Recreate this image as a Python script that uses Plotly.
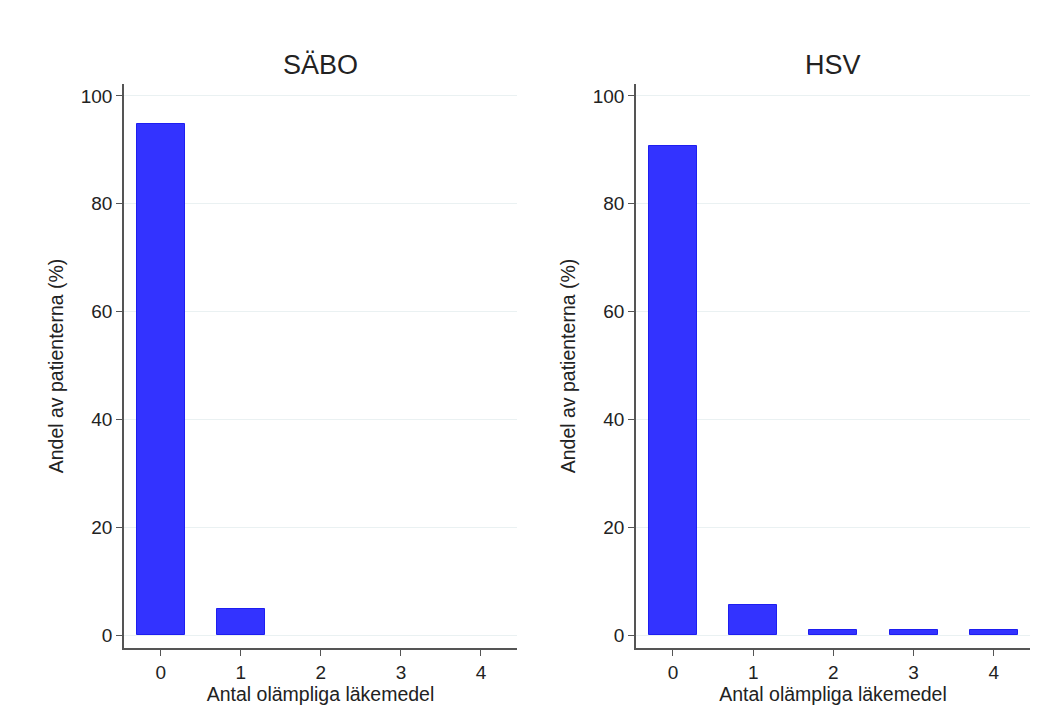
import plotly.graph_objects as go

categories = [0, 1, 2, 3, 4]
sabo_values = [94.7, 4.9, 0, 0, 0]
hsv_values = [90.7, 5.5, 1.0, 1.0, 1.0]
panel_titles = ["SÄBO", "HSV"]
y_ticks = [0, 20, 40, 60, 80, 100]
x_title = "Antal olämpliga läkemedel"
y_title = "Andel av patienterna (%)"

fill = "rgb(51,51,255)"
edge = "rgb(30,30,240)"
font = "Liberation Sans, Arial, sans-serif"
txt = "#222222"


def bar(vals, xa, ya):
    return go.Bar(x=categories, y=vals, width=0.6,
                  marker=dict(color=fill, line=dict(color=edge, width=[1 if v > 0 else 0 for v in vals])),
                  xaxis=xa, yaxis=ya, showlegend=False)


fig = go.Figure()
fig.add_trace(bar(sabo_values, "x", "y"))
fig.add_trace(bar(hsv_values, "x2", "y2"))

W, H = 1059, 706
OFF = 8  # page body margin
xd1 = [(124 - OFF) / W, (517 - OFF) / W]
xd2 = [(636 - OFF) / W, (1030 - OFF) / W]
yd = [1 - (648 - OFF) / H, 1 - (84 - OFF) / H]

axis_common = dict(showline=True, linecolor="#555555", linewidth=1.5, ticks="outside", ticklen=6,
                   tickcolor="#555555", tickfont=dict(size=19, color=txt, family=font), zeroline=False)
xcommon = dict(axis_common, range=[-0.46, 4.45], tickvals=categories, showgrid=False,
               title=dict(text=x_title, font=dict(size=19.5, color=txt, family=font), standoff=2))
ycommon = dict(axis_common, range=[-2.4, 102.2], tickvals=y_ticks, showgrid=True, gridcolor="#eaf1f2", gridwidth=1,
               title=dict(text=y_title, font=dict(size=19.5, color=txt, family=font), standoff=12))

fig.update_layout(
    width=W, height=H, margin=dict(l=0, r=0, t=0, b=0),
    plot_bgcolor="white", paper_bgcolor="white", bargap=0,
    xaxis=dict(xcommon, domain=xd1, anchor="y"),
    yaxis=dict(ycommon, domain=yd, anchor="x"),
    xaxis2=dict(xcommon, domain=xd2, anchor="y2"),
    yaxis2=dict(ycommon, domain=yd, anchor="x2"),
    annotations=[
        dict(text=panel_titles[0], x=(xd1[0] + xd1[1]) / 2, y=1 - (65 - OFF) / H, xref="paper", yref="paper",
             xanchor="center", yanchor="middle", showarrow=False, font=dict(size=27, color=txt, family=font)),
        dict(text=panel_titles[1], x=(xd2[0] + xd2[1]) / 2, y=1 - (65 - OFF) / H, xref="paper", yref="paper",
             xanchor="center", yanchor="middle", showarrow=False, font=dict(size=27, color=txt, family=font)),
    ],
)

fig.write_html("out.html")
